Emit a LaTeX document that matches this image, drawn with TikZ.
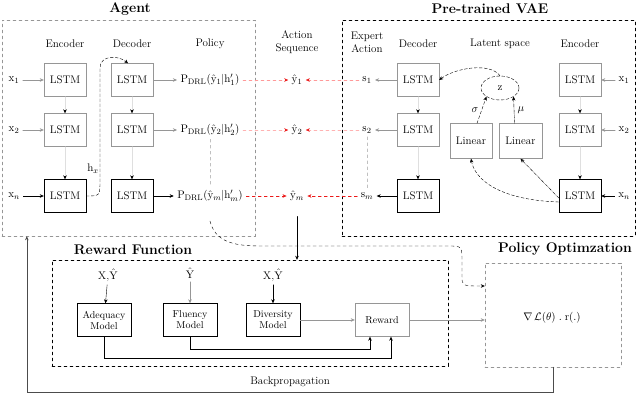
\documentclass[tikz,border=0pt]{standalone}
\usepackage{amsmath,amssymb}
\usepackage{tikz}
\usetikzlibrary{arrows.meta,shapes.geometric}
\usepackage{xcolor}
\definecolor{actred}{RGB}{235,25,25}
\definecolor{faint}{RGB}{150,150,150}

\begin{document}
\begin{tikzpicture}[x=1pt,y=-1pt,line cap=round,font=\fontsize{11}{13}\selectfont,>={Stealth[length=4pt,width=3.5pt]},
  lstm/.style={draw,minimum width=42,minimum height=33,inner sep=1pt},
  modelbox/.style={draw,minimum width=54,minimum height=33,inner sep=1pt,align=center,font=\fontsize{10}{11}\selectfont},
  group/.style={draw,dashed,inner sep=0pt},
  heading/.style={font=\fontsize{14}{16}\selectfont\bfseries},
  redarrow/.style={dashed,-{Stealth[length=4pt,width=3.5pt,actred]}}]
  \useasboundingbox (0,0) rectangle (640,394);
  \node[group,draw=faint,minimum width=253,minimum height=216] (agent) at (128.5,128) {};
  \node[group,minimum width=293,minimum height=216] (vae) at (488.5,128) {};
  \node[group,minimum width=396,minimum height=106] (reward) at (250,313) {};
  \node[group,draw=faint,minimum width=136,minimum height=104] (polopt) at (553,315) {};
  \node[heading] (tagent) at (130,9) {Agent};
  \node[heading] (tvae) at (490,9) {Pre-trained VAE};
  \node[heading] (treward) at (133,250) {Reward Function};
  \node[heading] (tpolopt) at (565,249) {Policy Optimzation};
  \foreach \x/\txt in {65/Encoder,132/Decoder,210/Policy,418/Decoder,500/Latent space,580/Encoder}{\node (h\x) at (\x,44) {\txt};}
  \node[align=center] (actseq) at (297,42) {Action\\Sequence};
  \node[align=center] (expact) at (367,42) {Expert\\Action};
  \foreach \r/\y/\n/\m/\c/\rc in {1/80/1/1/faint/red!40,2/130/2/2/faint/red!30,3/196/n/m/black/actred}{
    \node (ax\r) at (14,\y) {$\mathrm{x}_{\n}$};
    \node[lstm,draw=\c] (aenc\r) at (65,\y) {LSTM};
    \node[lstm,draw=\c] (adec\r) at (132,\y) {LSTM};
    \node (pol\r) at (210,\y) {$\mathrm{P}_{\mathrm{DRL}}(\hat{\mathrm{y}}_{\m}|\mathrm{h}'_{\m})$};
    \node (yh\r) at (297,\y) {$\hat{\mathrm{y}}_{\m}$};
    \node (s\r) at (367,\y) {$\mathrm{s}_{\m}$};
    \node[lstm,draw=\c] (vdec\r) at (418,\y) {LSTM};
    \node[lstm,draw=\c] (venc\r) at (580,\y) {LSTM};
    \node (vx\r) at (624,\y) {$\mathrm{x}_{\n}$};
    \draw[->,\c] (ax\r) -- (aenc\r);
    \draw[->,\c] (adec\r) -- (pol\r);
    \draw[->,\c] (vdec\r) -- (s\r);
    \draw[->,\c] (vx\r) -- (venc\r);
    \draw[redarrow,\rc] (pol\r) -- (yh\r);
    \draw[redarrow,\rc] (s\r) -- (yh\r);
  }
  \foreach \a/\b in {1/2,2/3}{
    \draw[-{Stealth[length=4pt,width=3.5pt,black]},faint!30] (aenc\a) -- (aenc\b);
    \draw[-{Stealth[length=4pt,width=3.5pt,black]},faint!30] (adec\a) -- (adec\b);
    \draw[-{Stealth[length=4pt,width=3.5pt,black]},faint!30] (vdec\a) -- (vdec\b);
    \draw[-{Stealth[length=4pt,width=3.5pt,black]},faint!30] (venc\a) -- (venc\b);
  }
  \draw[->,densely dashed] (aenc3.east) .. controls (100,196) .. (100,180) -- (100,68) .. controls (100,55) and (118,55) .. ([xshift=-4]adec1.north);
  \node (hx) at (93,169) {$\mathrm{h}_x$};
  \draw[dashed,faint!60] (pol2.south) -- (pol3.north);
  \draw[dashed,faint!60] (s2.south) -- (s3.north);
  % latent space
  \node[ellipse,draw,densely dashed,minimum width=38,minimum height=24] (z) at (500,88) {$\mathrm{z}$};
  \node[draw=faint,minimum width=42,minimum height=35] (lin1) at (471,141) {Linear};
  \node[draw=faint,minimum width=43,minimum height=35] (lin2) at (520.5,141) {Linear};
  \draw[->,densely dashed] ([xshift=6]lin1.north) -- node[left] {$\sigma$} (z.south west);
  \draw[->,densely dash dot] ([xshift=-6]lin2.north) -- node[right] {$\mu$} (z.south east);
  \draw[->,densely dashed] (z.north) .. controls (490,62) and (455,68) .. (vdec1.east);
  \draw[->,densely dashed] ([yshift=-6]venc3.west) .. controls (500,200) and (475,180) .. (lin1.south);
  \draw[->,densely dash dot] ([yshift=-2]venc3.west) -- (lin2.south);
  % agent to reward and policy optimization
  \draw[->] ([yshift=-12]yh3.south) -- (yh3.south |- reward.north);
  \draw[->,dashed] ([yshift=-16]pol3.south) .. controls (215,240) and (230,246) .. (260,246) -- (448,246) .. controls (462,246) .. (462,262) -- (462,276) .. controls (462,286) .. ([yshift=29]polopt.west);
  % reward function
  \node (in1) at (108,275) {X,$\hat{\mathrm{Y}}$};
  \node (in2) at (190,273) {$\hat{\mathrm{Y}}$};
  \node (in3) at (273,275) {X,$\hat{\mathrm{Y}}$};
  \node[modelbox] (adeq) at (104,320) {Adequacy\\Model};
  \node[modelbox] (flu) at (190,320) {Fluency\\Model};
  \node[modelbox] (div) at (273,320) {Diversity\\Model};
  \node[modelbox,draw=faint] (rew) at (382,320) {Reward};
  \draw[->] (in1) -- (adeq);
  \draw[->,faint] (in2) -- (flu);
  \draw[->] (in3) -- (div);
  \draw[->,faint] (div) -- (rew);
  \draw[->,faint] (rew) -- (rew -| polopt.west);
  \draw[->] (flu.south) -- ++(0,12) -| ([xshift=-12]rew.south);
  \draw[->] (adeq.south) -- ++(0,21) -| ([xshift=9]rew.south);
  \node (grad) at (552,318) {$\nabla\,\mathcal{L}(\theta)\;.\;\mathrm{r}(.)$};
  % backpropagation
  \draw[->,semithick,black!70] (polopt.south) -- ++(0,25) -| ([xshift=25]agent.south west);
  \node (bp) at (290,382) {Backpropagation};
\end{tikzpicture}
\end{document}
